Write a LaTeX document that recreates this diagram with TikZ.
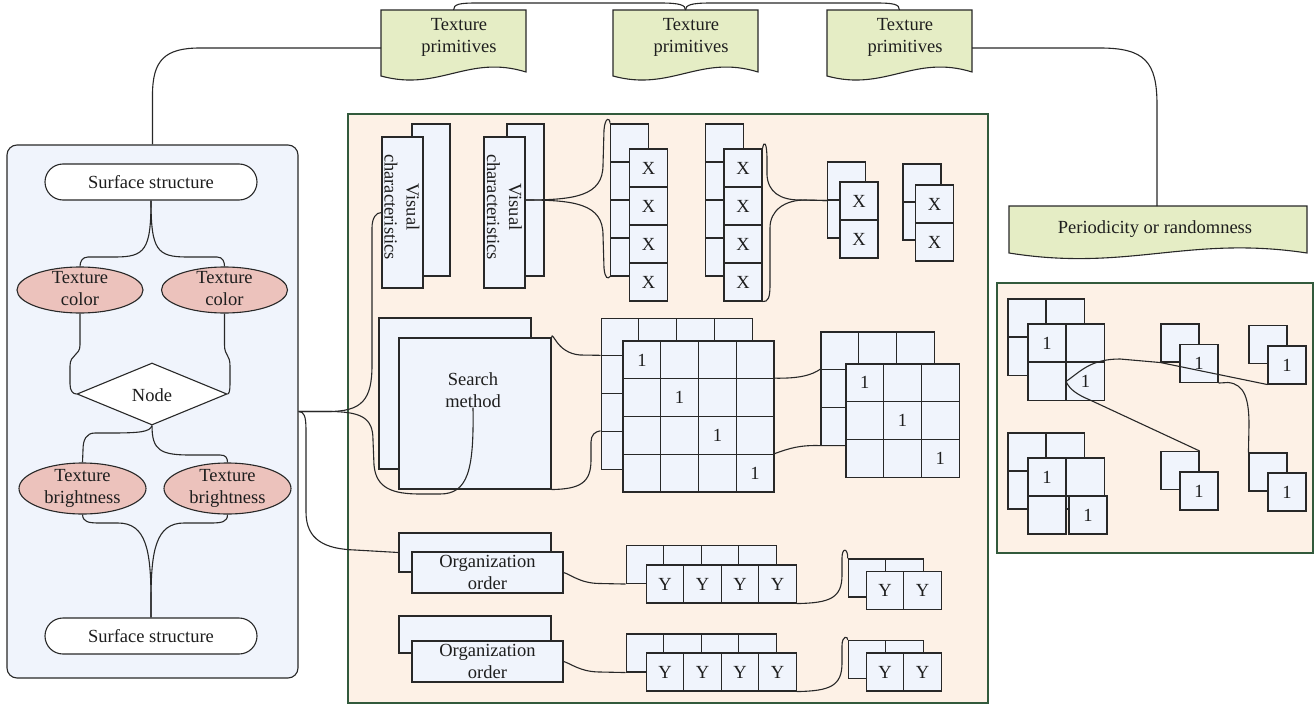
\documentclass[tikz,border=0pt]{standalone}
\usepackage{fontspec}
\setmainfont{Liberation Serif}
\usetikzlibrary{shapes.geometric,shapes.misc}
\definecolor{linec}{RGB}{40,40,40}
\definecolor{cellc}{RGB}{240,244,252}
\definecolor{panelc}{RGB}{240,244,252}
\definecolor{peach}{RGB}{253,241,230}
\definecolor{greenb}{RGB}{50,90,60}
\definecolor{pinkc}{RGB}{236,194,188}
\definecolor{bannerc}{RGB}{229,237,197}
\definecolor{textc}{RGB}{30,30,30}
\begin{document}
\begin{tikzpicture}[x=1pt,y=-1pt,
  font=\fontsize{18.5}{22}\selectfont, text=textc,
  every node/.style={align=center, inner sep=0pt},
  cell/.style={draw=linec, fill=cellc, line width=1.1pt, minimum width=38, minimum height=38},
  box/.style={draw=linec, fill=cellc, line width=1.1pt},
  conn/.style={draw=linec, line width=1.1pt},
  panel/.style={draw=greenb, fill=peach, line width=1.1pt},
  pill/.style={rounded rectangle, draw=linec, fill=white, line width=1.1pt, minimum width=212, minimum height=36},
  oval/.style={ellipse, draw=linec, fill=pinkc, line width=1.1pt},
  ban/.style={draw=linec, fill=bannerc, line width=1.1pt}]

\fill[white] (0,0) rectangle (1316,706);
\useasboundingbox (0,0) rectangle (1316,706);

% ---------- banners ----------
\path[ban] (381,10) -- (526,10) -- (526,72) .. controls (468,54) and (439,92) .. (381,76) -- cycle;
\path[ban] (613,10) -- (758,10) -- (758,72) .. controls (700,54) and (671,92) .. (613,76) -- cycle;
\path[ban] (827,10) -- (972,10) -- (972,72) .. controls (914,54) and (885,92) .. (827,76) -- cycle;
\path[ban] (1009,206) -- (1307,206) -- (1307,253) .. controls (1188,235) and (1128,272) .. (1009,253) -- cycle;
\node (bt1) at (459,37) {Texture\\primitives};
\node (bt2) at (691,37) {Texture\\primitives};
\node (bt3) at (905,37) {Texture\\primitives};
\node (pr) at (1155,229) {Periodicity or randomness};
\coordinate (b1w) at (381,48);
\coordinate (b3e) at (972,48);
\coordinate (b1n) at (453.5,10);
\coordinate (b2n) at (685.5,10);
\coordinate (b3n) at (899.5,10);
\coordinate (prn) at (1157,206);

% ---------- left panel ----------
\node[draw=linec, fill=panelc, rounded corners=10pt, line width=1.1pt, minimum width=291, minimum height=533] (lp) at (152.5,411.5) {};
\node[pill] (ss1) at (151,182) {Surface structure};
\node[oval, minimum width=126, minimum height=46] (tc1) at (80,290) {};
\node (tc1t) at (80,289) {Texture\\color};
\node[oval, minimum width=126, minimum height=46] (tc2) at (224.5,290) {};
\node (tc2t) at (224.5,289) {Texture\\color};
\node[diamond, draw=linec, fill=white, line width=1.1pt, minimum width=150, minimum height=62] (nd) at (152,394) {};
\node (ndt) at (152,395) {Node};
\node[oval, minimum width=127, minimum height=51] (tb1) at (82.5,488.5) {};
\node (tb1t) at (82.5,488) {Texture\\brightness};
\node[oval, minimum width=127, minimum height=51] (tb2) at (227.5,488.5) {};
\node (tb2t) at (227.5,488) {Texture\\brightness};
\node[pill] (ss2) at (151,636) {Surface structure};

% ---------- panels ----------
\node[panel, minimum width=640, minimum height=589] (mp) at (668,408.5) {};
\node[panel, minimum width=316, minimum height=270] (rp) at (1155,418) {};

% ---------- visual characteristics ----------
\node[box, minimum width=38, minimum height=152] (vc1b) at (431,200) {};
\node[box, minimum width=41, minimum height=151] (vc1f) at (402.5,212.5) {};
\node[rotate=-90] (vc1t) at (402,207) {Visual\\characteristics};
\node[box, minimum width=37, minimum height=152] (vc2b) at (525.5,200) {};
\node[box, minimum width=41, minimum height=151] (vc2f) at (504.5,212.5) {};
\node[rotate=-90] (vc2t) at (504.5,207) {Visual\\characteristics};

% ---------- X stacks ----------
\foreach \i/\yy in {1/143,2/181,3/219,4/257} \node[cell] (xa\i) at (629.5,\yy) {};
\foreach \i/\yy in {1/168,2/206,3/244,4/282} \node[cell] (xb\i) at (648.5,\yy) {X};
\foreach \i/\yy in {1/143,2/181,3/219,4/257} \node[cell] (xc\i) at (724.5,\yy) {};
\foreach \i/\yy in {1/168,2/206,3/244,4/282} \node[cell] (xd\i) at (743,\yy) {X};
\foreach \i/\yy in {1/181,2/219} \node[cell] (xe\i) at (846.5,\yy) {};
\foreach \i/\yy in {1/201,2/239} \node[cell] (xf\i) at (859,\yy) {X};
\foreach \i/\yy in {1/183,2/221} \node[cell] (xg\i) at (922,\yy) {};
\foreach \i/\yy in {1/204,2/242} \node[cell] (xh\i) at (934.5,\yy) {X};

% ---------- search method ----------
\node[box, minimum width=152, minimum height=151] (sma) at (455,393.5) {};
\node[box, minimum width=152, minimum height=151] (smf) at (475,413.5) {};
\node (smt) at (473,390) {Search\\method};

% ---------- 1 grids ----------
\foreach \r/\yy in {1/337,2/374.75,3/412.5,4/450.25}
  \foreach \c/\xx in {1/620,2/657.75,3/695.5,4/733.25}
    \node[cell, minimum size=37.75] (ga\r\c) at (\xx,\yy) {};
\foreach \r/\yy in {1/359.9,2/397.6,3/435.4,4/473.1}
  \foreach \c/\xx in {1/641.9,2/679.6,3/717.4,4/755.1}
    \node[cell, minimum size=37.75] (gb\r\c) at (\xx,\yy) {\ifnum\r=\c\relax 1\fi};
\foreach \r/\yy in {1/350.8,2/388.5,3/426.2}
  \foreach \c/\xx in {1/839.8,2/877.5,3/915.2}
    \node[cell, minimum size=37.7] (sa\r\c) at (\xx,\yy) {};
\foreach \r/\yy in {1/382.8,2/420.5,3/458.2}
  \foreach \c/\xx in {1/864.8,2/902.5,3/940.2}
    \node[cell, minimum size=37.7] (sb\r\c) at (\xx,\yy) {\ifnum\r=\c\relax 1\fi};

% ---------- organization order ----------
\node[box, minimum width=152, minimum height=39] (oa) at (475,552.5) {};
\node[box, minimum width=151, minimum height=41] (ob) at (487.5,572.5) {Organization\\order};
\node[box, minimum width=152, minimum height=37] (oc) at (475,634.5) {};
\node[box, minimum width=151, minimum height=41] (od) at (487.5,661.5) {Organization\\order};

\foreach \i/\xx in {1/645,2/682.5,3/720,4/757.5} \node[cell, minimum width=37.75] (ya\i) at (\xx,564.5) {};
\foreach \i/\xx in {1/665,2/702.5,3/740,4/777.5} \node[cell, minimum width=37.75] (yb\i) at (\xx,584) {Y};
\foreach \i/\xx in {1/645,2/682.5,3/720,4/757.5} \node[cell, minimum width=37.75] (yc\i) at (\xx,653) {};
\foreach \i/\xx in {1/665,2/702.5,3/740,4/777.5} \node[cell, minimum width=37.75] (yd\i) at (\xx,672) {Y};
\foreach \i/\xx in {1/867,2/904.5} \node[cell, minimum width=37.5] (ye\i) at (\xx,578) {};
\foreach \i/\xx in {1/885,2/922.5} \node[cell, minimum width=37.5] (yf\i) at (\xx,590.5) {Y};
\foreach \i/\xx in {1/867,2/904.5} \node[cell, minimum width=37.5] (yg\i) at (\xx,659.5) {};
\foreach \i/\xx in {1/885,2/922.5} \node[cell, minimum width=37.5] (yh\i) at (\xx,672) {Y};

% ---------- right panel ----------
\foreach \r/\yy in {1/318,2/356.5} \foreach \c/\xx in {1/1027,2/1065.5}
  \node[cell] (ra\r\c) at (\xx,\yy) {};
\foreach \r/\yy in {1/343,2/381.5} \foreach \c/\xx in {1/1047,2/1085.5}
  \node[cell] (rb\r\c) at (\xx,\yy) {\ifnum\r=\c\relax 1\fi};
\foreach \r/\yy in {1/452,2/490} \foreach \c/\xx in {1/1027,2/1065.5}
  \node[cell] (rc\r\c) at (\xx,\yy) {};
\node[cell] (rd11) at (1047,477) {1};
\node[cell] (rd12) at (1085.5,477) {};
\node[cell] (rd21) at (1047,515) {};
\node[cell] (rd22) at (1088,515) {1};
\node[cell] (pa) at (1180,343) {};
\node[cell] (paf) at (1199,363.5) {1};
\node[cell] (pb) at (1268,344.5) {};
\node[cell] (pbf) at (1287,365) {1};
\node[cell] (pc) at (1180,470.5) {};
\node[cell] (pcf) at (1199,491) {1};
\node[cell] (pd) at (1268,472) {};
\node[cell] (pdf) at (1287,492) {1};

% ---------- connectors: top ----------
\draw[conn] (lp.north) -- (152.5,95) .. controls (152.5,60) and (165,48) .. (200,48) -- (b1w);
\draw[conn] (b1n) .. controls (453.5,4) and (460,3) .. (477,3) -- (660,3) .. controls (680,3) and (685.5,5) .. (b2n);
\draw[conn] (b2n) .. controls (685.5,5) and (691,3) .. (711,3) -- (875,3) .. controls (893,3) and (899.5,4) .. (b3n);
\draw[conn] (b3e) -- (1100,48) .. controls (1145,48) and (1157,62) .. (1157,105) -- (prn);

% ---------- connectors: left panel ----------
\draw[conn] (ss1.south) .. controls (151,250) and (145,257) .. (115,257) -- (88,257) .. controls (82,257) and (80,262) .. (tc1.north);
\draw[conn] (ss1.south) .. controls (151,250) and (157,257) .. (187,257) -- (217,257) .. controls (223,257) and (224.5,262) .. (tc2.north);
\draw[conn] (tc1.south) -- (80,345) .. controls (80,356) and (70,354) .. (70,366) -- (70,384) .. controls (70,391) and (73,394) .. (nd.west);
\draw[conn] (tc2.south) -- (224.5,345) .. controls (224.5,356) and (230,354) .. (230,366) -- (230,384) .. controls (230,391) and (229,394) .. (nd.east);
\draw[conn] (nd.south) .. controls (150,432) and (140,433) .. (110,433) -- (95,433) .. controls (86,433) and (83,440) .. (83,450) -- (tb1.north);
\draw[conn] (nd.south) .. controls (152,450) and (160,455) .. (190,455) -- (220,455) .. controls (226,455) and (227.5,458) .. (tb2.north);
\draw[conn] (tb1.south) .. controls (83,522) and (88,523) .. (100,523) -- (118,523) .. controls (146,523) and (151,550) .. (151,600) -- (ss2.north);
\draw[conn] (tb2.south) .. controls (227.5,522) and (222,523) .. (210,523) -- (184,523) .. controls (156,523) and (151,550) .. (151,600) -- (ss2.north);

% ---------- fan from left panel ----------
\draw[conn] (lp.east) -- (328,411.5) .. controls (362,411.5) and (372,400) .. (372,365) -- (372,228) .. controls (372,218) and (376,212.5) .. (vc1f.west);
\draw[conn] (lp.east) -- (328,411.5) .. controls (362,411.5) and (373,418) .. (373,440) -- (374,465) .. controls (376,488) and (392,494) .. (420,494) -- (440,494) .. controls (468,494) and (474,470) .. (smt.south);
\draw[conn] (lp.east) .. controls (304,411.5) and (306,416) .. (306,430) -- (306,512) .. controls (306,540) and (325,549) .. (355,550) -- (oa.west);

% ---------- connectors: middle ----------
\draw[conn] ([yshift=12.5pt]vc2f.east) .. controls (575,200) and (603,196) .. (603,165) -- (604,130) .. controls (605,117) and (610,117) .. (xa1.north west);
\draw[conn] ([yshift=12.5pt]vc2f.east) .. controls (575,200) and (603,204) .. (603,235) -- (604,268) .. controls (605,279) and (608,279) .. (xa4.south west);
\draw[conn] (xd1.north east) .. controls (764,140) and (767,142) .. (767,160) -- (767,175) .. controls (768,192) and (780,200) .. (800,200) -- (xe1.south west);
\draw[conn] (xd4.south east) .. controls (768,302) and (770,298) .. (770,285) -- (770,228) .. controls (770,210) and (785,200) .. (805,200) -- (xe1.south west);
\draw[conn] (smf.north east) .. controls (553,330) and (556,353) .. (580,355) -- (ga21.north west);
\draw[conn] (smf.south east) .. controls (580,489) and (591,483) .. (591,460) -- (591,442) .. controls (591,435) and (595,431.4) .. (ga41.north west);
\draw[conn] (gb24.north east) .. controls (800,378.6) and (812,375) .. (sa21.north west);
\draw[conn] (gb44.north east) .. controls (790,448) and (800,445) .. (sa31.south west) -- (sb31.west |- sa31.south);
\draw[conn] (ob.east) .. controls (570,574) and (580,583.5) .. (600,583.5) -- (ya1.south west);
\draw[conn] (od.east) .. controls (570,663) and (580,672) .. (600,672) -- (yc1.south west);
\draw[conn] (yb4.south east) .. controls (830,603) and (842,598) .. (842,575) -- (842,558) .. controls (842,547) and (848,548) .. (ye1.north west);
\draw[conn] (yd4.south east) .. controls (830,691) and (842,686) .. (842,663) -- (842,646) .. controls (842,635) and (848,636) .. (yg1.north west);

% ---------- connectors: right panel ----------
\draw[conn] (rb22.west) .. controls (1080,372) and (1090,359) .. (1120,359) -- (pa.south west) -- (pbf.south west);
\draw[conn] (paf.south east) -- (1228,382.5) .. controls (1245,384) and (1249,400) .. (1249,425) -- (pd.north west);
\draw[conn] (rb22.west) .. controls (1070,390) and (1078,395) .. (1090,400) -- (pc.north east);
\end{tikzpicture}
\end{document}
